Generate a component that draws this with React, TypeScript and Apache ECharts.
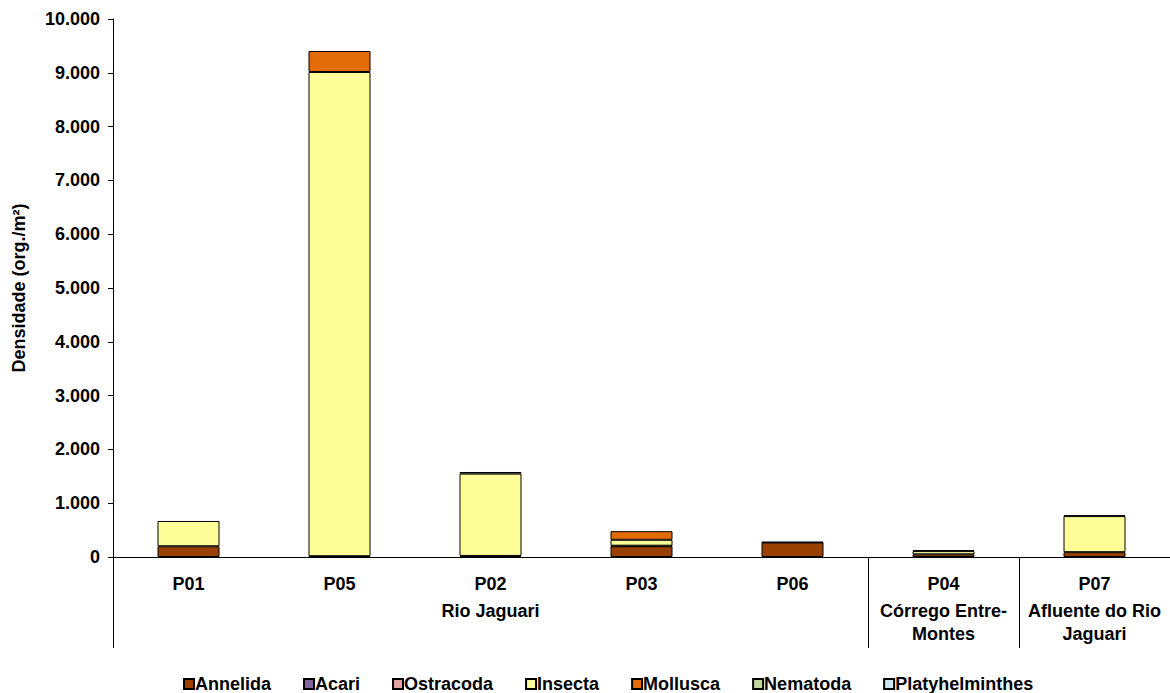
import React, { useEffect, useRef } from "react";
import * as echarts from "echarts";

const categories = ["P01", "P05", "P02", "P03", "P06", "P04", "P07"];
const groupLabels = ["Rio Jaguari", "Córrego Entre-\nMontes", "Afluente do Rio\nJaguari"];
const groupCenters = [2.5, 5.5, 6.5];
const groupBounds = [0, 5, 6, 7];

const seriesNames = ["Annelida", "Acari", "Ostracoda", "Insecta", "Mollusca", "Nematoda", "Platyhelminthes"];
const colors = ["#994000", "#7F64A0", "#E6A0A0", "#FFFF99", "#E36C09", "#C3D69B", "#CCE6F0"];

const annelida = [200, 15, 20, 200, 270, 50, 90];
const acari = [null, null, null, null, null, null, null];
const ostracoda = [null, null, null, 10, null, null, null];
const insecta = [470, 9000, 1530, 110, null, 60, 670];
const mollusca = [null, 390, 30, 160, 10, null, 15];
const nematoda = [null, null, null, null, null, 20, null];
const platyhelminthes = [null, null, null, null, null, null, null];

const seriesData = [annelida, acari, ostracoda, insecta, mollusca, nematoda, platyhelminthes];

const FONT = "'Liberation Sans', Arial, sans-serif";

function fmt(v: number): string {
  return String(Math.round(v)).replace(/\B(?=(\d{3})+(?!\d))/g, ".");
}

export default function App() {
  const ref = useRef<HTMLDivElement>(null);
  useEffect(() => {
    if (!ref.current) return;
    const chart = echarts.init(ref.current, undefined, { renderer: "svg" });
    const textBase = { fontFamily: FONT, fontWeight: "bold" as const, fontSize: 18, color: "#000" };
    chart.setOption({
      animation: false,
      backgroundColor: "#fff",
      grid: { left: 113, top: 19, bottom: 136, width: 1060.5 },
      legend: {
        top: 675,
        left: 183,
        padding: 0,
        data: seriesNames,
        itemWidth: 10,
        itemHeight: 10,
        itemGap: 32,
        icon: "rect",
        textStyle: { ...textBase, padding: [0, 0, 0, -4] },
      },
      xAxis: [
        {
          type: "category",
          data: categories,
          axisLine: { show: true, lineStyle: { color: "#000", width: 1 } },
          axisTick: { show: false },
          axisLabel: { ...textBase, margin: 18, interval: 0 },
          splitLine: { show: false },
        },
        {
          type: "value",
          min: 0,
          max: 7,
          position: "bottom",
          axisLine: { show: false },
          splitLine: { show: false },
          axisTick: {
            show: true,
            customValues: groupBounds,
            length: 91,
            lineStyle: { color: "#000", width: 1 },
          },
          axisLabel: {
            ...textBase,
            customValues: groupCenters,
            margin: 42,
            lineHeight: 23,
            formatter: (v: number) => {
              const i = groupCenters.indexOf(v);
              return i >= 0 ? groupLabels[i] : "";
            },
          },
        },
      ],
      yAxis: {
        type: "value",
        min: 0,
        max: 10000,
        interval: 1000,
        name: "Densidade (org./m²)",
        nameLocation: "middle",
        nameRotate: 90,
        nameGap: 85,
        nameTextStyle: { ...textBase },
        axisLine: { show: true, lineStyle: { color: "#000", width: 1 } },
        axisTick: { show: true, length: 5, lineStyle: { color: "#000" } },
        axisLabel: { ...textBase, margin: 13, formatter: (v: number) => fmt(v) },
        splitLine: { show: false },
      },
      series: seriesNames.map((name, i) => ({
        name,
        type: "bar",
        stack: "total",
        barWidth: 62,
        data: seriesData[i],
        itemStyle: { color: colors[i], borderColor: "#000", borderWidth: 1 },
      })),
    });
    return () => chart.dispose();
  }, []);
  return (
    <div
      ref={ref}
      style={{ position: "fixed", left: 0, top: 0, width: 1170, height: 693 }}
    />
  );
}
